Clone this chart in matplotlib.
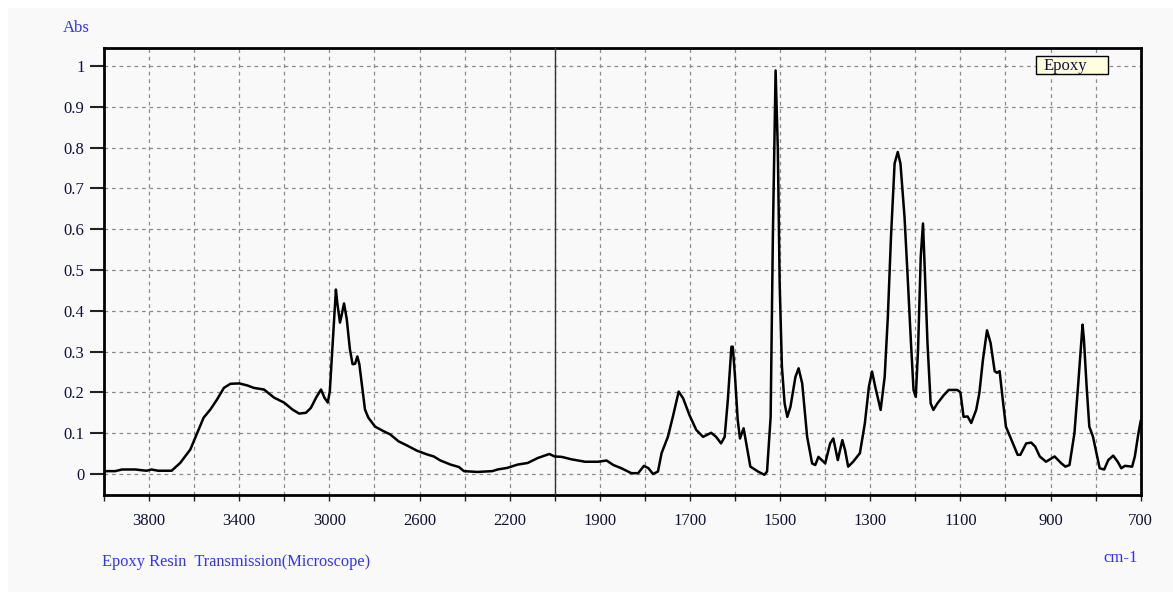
import numpy as np
import matplotlib
matplotlib.use("Agg")
import matplotlib.pyplot as plt
from matplotlib.patches import Rectangle

# spectrum (wavenumber cm-1, absorbance)
wavenumber = [
    4000, 3950, 3920, 3860, 3830, 3810, 3790, 3760, 3700, 3662, 3617, 3587,
    3558, 3528, 3498, 3468, 3439, 3400, 3364, 3335, 3290, 3245, 3201, 3164,
    3134, 3104, 3082, 3059, 3037, 3022, 3007, 2998, 2983, 2971, 2965, 2953,
    2946, 2935, 2923, 2909, 2897, 2886, 2876, 2867, 2857, 2842, 2827, 2797,
    2760, 2730, 2693, 2656, 2611, 2567, 2537, 2507, 2462, 2425, 2403, 2343,
    2277, 2254, 2210, 2165, 2120, 2076, 2024, 2001,
    1985, 1963, 1933, 1904, 1885, 1870, 1852, 1830, 1815, 1802, 1792, 1782,
    1771, 1763, 1749, 1738, 1725, 1715, 1701, 1686, 1671, 1653, 1642, 1631,
    1623, 1616, 1608, 1605, 1600, 1594, 1589, 1581, 1575, 1566, 1549, 1535,
    1529, 1521, 1516, 1510, 1505, 1501, 1496, 1490, 1484, 1477, 1466, 1459,
    1451, 1440, 1429, 1422, 1415, 1400, 1389, 1382, 1372, 1362, 1356, 1349,
    1338, 1323, 1312, 1303, 1296, 1289, 1277, 1268, 1261, 1254, 1246, 1239,
    1233, 1224, 1217, 1210, 1204, 1199, 1194, 1188, 1183, 1179, 1173, 1166,
    1160, 1151, 1137, 1126, 1107, 1100, 1093, 1084, 1076, 1065, 1058, 1050,
    1041, 1033, 1024, 1019, 1013, 1006, 999, 987, 973, 967, 954, 943,
    934, 924, 910, 891, 876, 867, 858, 847, 839, 833, 829, 826,
    820, 814, 806, 798, 791, 781, 772, 761, 751, 743, 735, 719,
    713, 705, 700,
]
absorbance = [
    0.007, 0.007, 0.011, 0.011, 0.009, 0.008, 0.011, 0.008, 0.008, 0.027, 0.060, 0.100,
    0.138, 0.158, 0.183, 0.211, 0.221, 0.222, 0.217, 0.211, 0.207, 0.187, 0.175, 0.158,
    0.148, 0.150, 0.162, 0.187, 0.207, 0.187, 0.175, 0.203, 0.339, 0.452, 0.420, 0.371,
    0.388, 0.418, 0.380, 0.306, 0.269, 0.270, 0.288, 0.269, 0.224, 0.158, 0.138, 0.116,
    0.105, 0.097, 0.080, 0.070, 0.057, 0.048, 0.043, 0.033, 0.023, 0.017, 0.007, 0.005,
    0.007, 0.011, 0.015, 0.023, 0.027, 0.039, 0.049, 0.043,
    0.042, 0.036, 0.030, 0.030, 0.033, 0.022, 0.014, 0.002, 0.002, 0.020, 0.014, 0.000,
    0.006, 0.051, 0.091, 0.140, 0.202, 0.185, 0.144, 0.108, 0.091, 0.101, 0.091, 0.075,
    0.091, 0.181, 0.312, 0.312, 0.238, 0.132, 0.087, 0.112, 0.075, 0.018, 0.006, -0.002,
    0.006, 0.140, 0.589, 0.989, 0.793, 0.467, 0.263, 0.173, 0.140, 0.165, 0.238, 0.259,
    0.222, 0.091, 0.026, 0.022, 0.042, 0.026, 0.075, 0.087, 0.034, 0.083, 0.059, 0.018,
    0.030, 0.051, 0.124, 0.214, 0.251, 0.214, 0.157, 0.238, 0.385, 0.581, 0.761, 0.789,
    0.761, 0.630, 0.483, 0.328, 0.206, 0.189, 0.304, 0.532, 0.614, 0.500, 0.320, 0.173,
    0.157, 0.173, 0.193, 0.206, 0.206, 0.200, 0.140, 0.141, 0.125, 0.157, 0.198, 0.280,
    0.352, 0.321, 0.252, 0.248, 0.252, 0.182, 0.116, 0.084, 0.047, 0.047, 0.075, 0.077,
    0.067, 0.043, 0.030, 0.043, 0.026, 0.018, 0.022, 0.100, 0.215, 0.305, 0.366, 0.330,
    0.215, 0.116, 0.092, 0.051, 0.014, 0.011, 0.034, 0.045, 0.030, 0.014, 0.020, 0.018,
    0.043, 0.100, 0.130,
]

x_ticks = [4000, 3800, 3600, 3400, 3200, 3000, 2800, 2600, 2400, 2200, 2000,
           1900, 1800, 1700, 1600, 1500, 1400, 1300, 1200, 1100, 1000, 900, 800, 700]
x_labels = ['', '3800', '', '3400', '', '3000', '', '2600', '', '2200', '',
            '1900', '', '1700', '', '1500', '', '1300', '', '1100', '', '900', '', '700']
y_ticks = [0, 0.1, 0.2, 0.3, 0.4, 0.5, 0.6, 0.7, 0.8, 0.9, 1.0]
y_labels = ['0', '0.1', '0.2', '0.3', '0.4', '0.5', '0.6', '0.7', '0.8', '0.9', '1']

SPLIT = 2000  # above this the axis is compressed by 2


def fwd(x):
    x = np.asarray(x, dtype=float)
    return np.where(x < SPLIT, x - 700, (SPLIT - 700) + (x - SPLIT) / 2)


def inv(u):
    u = np.asarray(u, dtype=float)
    return np.where(u < SPLIT - 700, u + 700, SPLIT + (u - (SPLIT - 700)) * 2)


serif = 'Liberation Serif'
blue = '#3030ff'
navy = '#10103a'

fig = plt.figure(figsize=(11.73, 5.92), dpi=100)
fig.patch.set_facecolor('#f9f9f9')
fig.add_artist(Rectangle((0, 1 - 8 / 592), 1, 8 / 592, transform=fig.transFigure,
                         facecolor='white', edgecolor='none', zorder=0))
fig.add_artist(Rectangle((0, 0), 8 / 1173, 1, transform=fig.transFigure,
                         facecolor='white', edgecolor='none', zorder=0))

ax = fig.add_axes([104 / 1173, 97 / 592, (1140.7 - 104) / 1173, (495 - 48) / 592])
ax.set_facecolor('#f9f9f9')
ax.set_xscale('function', functions=(fwd, inv))
ax.set_xlim(4000, 700)
ax.set_ylim(-0.0515, 1.044)

ax.set_xticks(x_ticks)
ax.set_xticklabels(x_labels, fontfamily=serif, fontsize=12, color=navy)
ax.set_yticks(y_ticks)
ax.set_yticklabels(y_labels, fontfamily=serif, fontsize=12, color=navy)
ax.tick_params(axis='x', length=4, width=1, pad=9, color='#222222')
ax.tick_params(axis='y', length=10, width=1.5, pad=4, color='#222222')

ax.grid(True, linestyle=(0, (3, 3)), color='#8a8a8a', linewidth=0.9)
ax.axvline(SPLIT, color='#333333', linewidth=1, zorder=3)

for side in ['top', 'bottom', 'left', 'right']:
    ax.spines[side].set_linewidth(2)
    ax.spines[side].set_color('black')

ax.plot(wavenumber, absorbance, color='black', linewidth=1.8, zorder=4)

# label box in the upper right corner
fig.add_artist(Rectangle((1036 / 1173, 1 - 74.3 / 592), 72 / 1173, 18 / 592,
                         transform=fig.transFigure, facecolor='#ffffe0',
                         edgecolor='black', linewidth=1, zorder=5))
fig.text(1044 / 1173, 1 - 66 / 592, 'Epoxy', fontfamily=serif, fontsize=12, color=navy,
         va='center', ha='left', zorder=6)

fig.text(63 / 1173, 1 - 28 / 592, 'Abs', fontfamily=serif, fontsize=12, color=blue,
         va='center', ha='left')
fig.text(102.5 / 1173, 1 - 562 / 592, 'Epoxy Resin  Transmission(Microscope)',
         fontfamily=serif, fontsize=11.8, color=blue, va='center', ha='left')
fig.text(1137.5 / 1173, 1 - 558 / 592, 'cm-1', fontfamily=serif, fontsize=12,
         color=blue, va='center', ha='right')

fig.savefig('out.png', dpi=100, facecolor=fig.get_facecolor())
